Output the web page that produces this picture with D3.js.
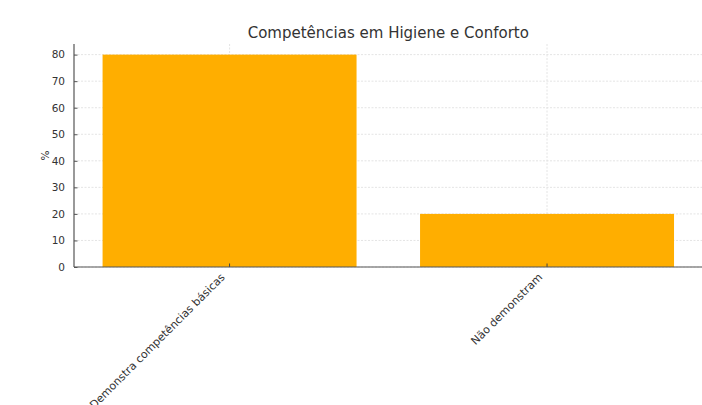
<!DOCTYPE html>
<html><head><meta charset="utf-8">
<script src="https://cdn.jsdelivr.net/npm/d3@7/dist/d3.min.js"></script>
<style>body{margin:0;background:#fff}svg{display:block}</style>
</head><body><svg id="c" width="702" height="405"></svg>
<script>
const categories = ["Demonstra competências básicas", "Não demonstram"];
const values = [80, 20];
const yTicks = [0, 10, 20, 30, 40, 50, 60, 70, 80];
const title = "Competências em Higiene e Conforto";
const yLabel = "%";

(function () {
const svg = d3.select("#c");
const pL = 74, pR = 702.6, pT = 44, pB = 267;
const font = "DejaVu Sans, sans-serif";

const x = d3.scaleLinear().domain([-0.49, 1.49]).range([pL, pR]);
const y = d3.scaleLinear().domain([0, 84]).range([pB, pT]);

const g = svg.append("g");
// grid
g.selectAll(".hg").data(yTicks).join("line")
  .attr("x1", pL).attr("x2", pR)
  .attr("y1", d => y(d)).attr("y2", d => y(d))
  .attr("stroke", "#ddd").attr("stroke-width", 0.8).attr("stroke-dasharray", "2,1.5");
g.selectAll(".vg").data(categories).join("line")
  .attr("x1", (d, i) => x(i)).attr("x2", (d, i) => x(i))
  .attr("y1", pT).attr("y2", pB)
  .attr("stroke", "#ddd").attr("stroke-width", 0.8).attr("stroke-dasharray", "2,1.5");

// bars
g.selectAll(".bar").data(values).join("rect")
  .attr("x", (d, i) => x(i - 0.4)).attr("width", (d, i) => x(i + 0.4) - x(i - 0.4))
  .attr("y", d => y(d)).attr("height", d => pB - y(d))
  .attr("fill", "#ffae00");

// y axis
const yAxis = d3.axisLeft(y).tickValues(yTicks).tickSize(-3.5).tickPadding(9);
const ya = svg.append("g").attr("transform", `translate(${pL},0)`).call(yAxis);
ya.select(".domain").remove();
ya.selectAll(".tick line").attr("stroke", "#555");
ya.selectAll("text").attr("font-family", font).attr("font-size", 10.5).attr("fill", "#333");
svg.append("line").attr("x1", pL).attr("x2", pL).attr("y1", pT).attr("y2", pB)
  .attr("stroke", "#555").attr("stroke-width", 1.2);

// x axis
const xa = svg.append("g");
xa.selectAll("line").data(categories).join("line")
  .attr("x1", (d, i) => x(i)).attr("x2", (d, i) => x(i))
  .attr("y1", pB).attr("y2", pB - 3.5).attr("stroke", "#444").attr("stroke-width", 1);
xa.selectAll("text").data(categories).join("text")
  .attr("transform", (d, i) => `translate(${x(i) - 4},${pB + 11}) rotate(-45)`)
  .attr("text-anchor", "end")
  .attr("font-family", font).attr("font-size", 11).attr("fill", "#333")
  .text(d => d);
svg.append("line").attr("x1", pL).attr("x2", pR).attr("y1", pB).attr("y2", pB)
  .attr("stroke", "#555").attr("stroke-width", 1.2);

// y label
svg.append("text").attr("transform", `translate(49,${(pT + pB) / 2}) rotate(-90)`)
  .attr("text-anchor", "middle").attr("font-family", font).attr("font-size", 10.5).attr("fill", "#333")
  .text(yLabel);

// title
svg.append("text").attr("x", (pL + pR) / 2).attr("y", 38)
  .attr("text-anchor", "middle").attr("font-family", font).attr("font-size", 15).attr("fill", "#333")
  .text(title);
})();
</script></body></html>
